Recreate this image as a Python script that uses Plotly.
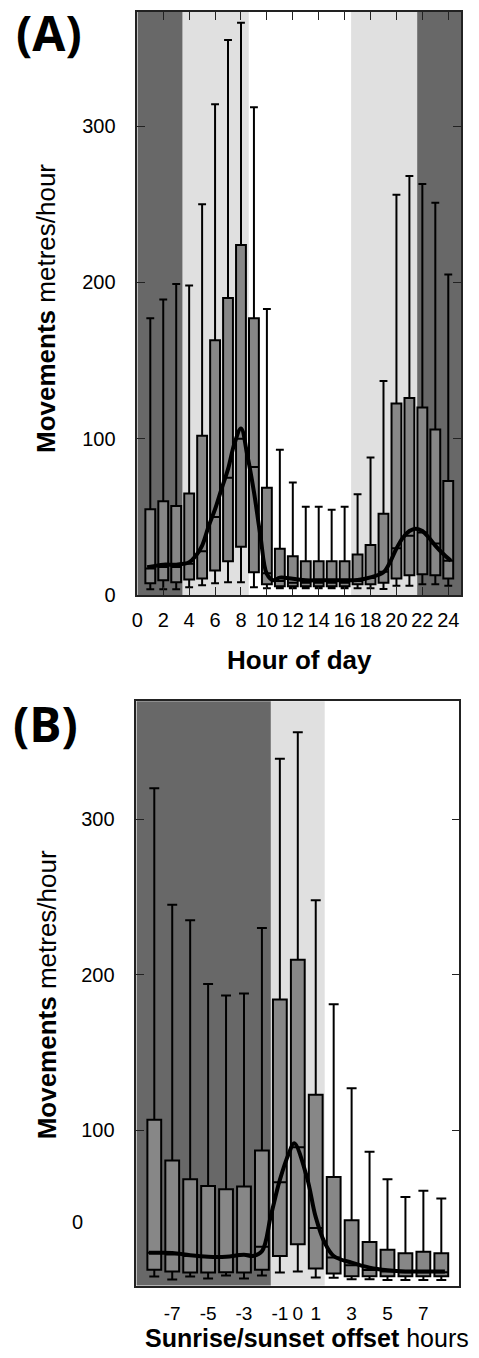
import plotly.graph_objects as go

# ---------------- data ----------------
hours_A = list(range(1, 25))
upper_A = [177, 189, 199, 198, 250, 314, 355, 366, 312, 183, 93, 72, 56.5, 56.5, 54.6, 56.5, 64.6, 88, 137, 256, 268, 263, 251, 205]
q3_A = [55, 60, 57, 65, 102, 163, 190, 224, 177, 68.6, 29.6, 24.8, 21.6, 21.6, 21.6, 21.6, 26, 32, 52, 122.5, 126, 120, 106, 73]
median_A = [17, 18, 18, 20, 28, 50, 75, 100, 82, 14, 9, 8, 8, 8, 8, 8, 9, 11, 15, 30, 38, 40, 33, 22]
q1_A = [7.6, 9.5, 8.3, 10, 10.6, 15.7, 21.6, 31, 14.6, 7, 5.7, 5.7, 5.7, 5.7, 5.7, 5.7, 7, 7, 8, 10.6, 12.7, 13.3, 12.7, 10.6]
lower_A = [3.8, 3.8, 3.8, 5, 6.3, 7.6, 8.3, 8.3, 5, 4.4, 4.4, 4.4, 4.4, 4.4, 4.4, 4.4, 4.4, 4.4, 4, 6, 6, 7, 7, 6]

curve_A_x = [0.76, 2, 3, 4, 4.5, 5, 5.5, 6, 6.5, 7, 7.5, 8, 8.5, 9, 9.5, 10, 10.5, 11, 12, 13, 14, 15, 16, 17, 18, 19, 19.5, 20, 20.5, 21, 21.5, 22, 22.5, 23, 23.5, 24.2]
curve_A_y = [17.8, 19.5, 19.5, 21, 25, 31.7, 44, 55, 68, 80.6, 97, 106.5, 89, 66, 38, 13.5, 9.5, 11.2, 10.5, 9.5, 9.5, 9.5, 9.5, 9.7, 11.4, 14.6, 21, 29.8, 36.8, 41, 42.5, 41, 36.8, 31.7, 27.3, 22]

offsets_B = list(range(-8, 9))
upper_B = [320, 245, 235, 194, 186.6, 188, 230, 339, 356, 248, 181, 127, 86, 68.4, 56.9, 60.9, 56]
q3_B = [106.7, 80.5, 68.4, 64, 62, 63.7, 86.9, 184, 209.6, 122.7, 69.8, 42, 28, 23, 20.7, 21.7, 20.7]
median_B = [21, 20, 19, 19, 19, 20, 25, 66.5, 89, 37, 18, 13, 10, 9, 8.5, 8.5, 8.5]
q1_B = [10.2, 9, 8.3, 8.3, 8.5, 8.3, 10.2, 19, 26.6, 10.9, 7.7, 6, 6, 6, 6, 6, 6]
lower_B = [5.8, 3.8, 5.8, 4.5, 6.4, 4.5, 6.4, 8.3, 9, 5.1, 5, 4, 4, 3.5, 3.5, 3.5, 3.5]

curve_B_x = [-8.3, -7, -6, -5, -4, -3, -2.5, -2, -1.5, -1, -0.5, -0.2, 0.5, 1, 1.5, 2, 3, 4, 5, 6, 7, 8.2]
curve_B_y = [21, 21, 19.5, 18.5, 18.5, 19.8, 19, 22, 45, 68, 85, 91.5, 70, 44, 27.5, 19, 14.7, 11.5, 9.8, 9, 9, 9]

# light periods: (start, end, kind)
shade_A = [(0, 3.5, "night"), (3.5, 8.6, "twilight"), (16.5, 21.6, "twilight"), (21.6, 25, "night")]
shade_B = [(-9, -1.5, "night"), (-1.5, 1.5, "twilight")]

xticks_A = list(range(0, 25, 2))
xticks_B = [-7, -5, -3, -1, 0, 1, 3, 5, 7]
xticklabels_B = ["-7", "-5", "-3", "-1", "0", "1", "3", "5", "7"]
xticks_B_top = [-7, -5, -3, -1, 1, 3, 5, 7]

# ---------------- styling ----------------
W, H = 479, 1358
DARK = "#686868"
LIGHT = "#e0e0e0"
BOXFILL = "#878787"
FONT = "Liberation Sans, Arial, sans-serif"

def px_x(p):
    return p / W

def px_y(p):
    return 1 - p / H

fig = go.Figure()

fig.add_trace(go.Box(
    x=hours_A, q1=q1_A, median=median_A, q3=q3_A,
    lowerfence=lower_A, upperfence=upper_A,
    width=0.76, whiskerwidth=0.8, boxpoints=False,
    fillcolor=BOXFILL, line=dict(color="black", width=2),
    xaxis="x", yaxis="y", showlegend=False))
fig.add_trace(go.Scatter(
    x=curve_A_x, y=curve_A_y, mode="lines", line=dict(color="black", width=4, shape="spline", smoothing=1),
    xaxis="x", yaxis="y", showlegend=False))

fig.add_trace(go.Box(
    x=offsets_B, q1=q1_B, median=median_B, q3=q3_B,
    lowerfence=lower_B, upperfence=upper_B,
    width=0.77, whiskerwidth=0.72, boxpoints=False,
    fillcolor=BOXFILL, line=dict(color="black", width=2),
    xaxis="x2", yaxis="y2", showlegend=False))
fig.add_trace(go.Scatter(
    x=curve_B_x, y=curve_B_y, mode="lines", line=dict(color="black", width=4, shape="spline", smoothing=1),
    xaxis="x2", yaxis="y2", showlegend=False))

shapes = []
for (a, b, kind) in shade_A:
    shapes.append(dict(type="rect", xref="x", yref="y domain", x0=a, x1=b, y0=0, y1=1,
                       fillcolor=DARK if kind == "night" else LIGHT, line=dict(width=0), layer="below"))
for (a, b, kind) in shade_B:
    shapes.append(dict(type="rect", xref="x2", yref="y2 domain", x0=a, x1=b, y0=0, y1=1,
                       fillcolor=DARK if kind == "night" else LIGHT, line=dict(width=0), layer="below"))

axis_common = dict(showline=True, linecolor="#222", linewidth=1.5, showgrid=False, zeroline=False,
                   ticklen=8, tickwidth=1.2, tickcolor="#222")
tickfont = dict(family=FONT, size=20, color="black")

fig.update_layout(
    width=W, height=H, margin=dict(l=0, r=0, t=0, b=0),
    paper_bgcolor="white", plot_bgcolor="white",
    shapes=shapes,
    xaxis=dict(domain=[px_x(133), px_x(461)], range=[0, 25], anchor="y",
               tickmode="array", tickvals=xticks_A, ticks="inside", mirror="ticks", tickangle=0,
               ticklabelstandoff=6, tickfont=tickfont, **axis_common),
    yaxis=dict(domain=[px_y(600), px_y(12)], range=[0, 373], anchor="x",
               tickmode="array", tickvals=[0, 100, 200, 300], ticks="inside", mirror="ticks",
               ticklabelstandoff=16, tickfont=tickfont, **axis_common),
    xaxis2=dict(domain=[px_x(132), px_x(459)], range=[-9, 9], anchor="y2",
                tickmode="array", tickvals=xticks_B, ticktext=xticklabels_B, ticks="", mirror=True,
                tickangle=0, ticklabelstandoff=10, tickfont=dict(family=FONT, size=19, color="black"),
                **axis_common),
    yaxis2=dict(domain=[px_y(1296), px_y(707)], range=[0, 376], anchor="x2",
                tickmode="array", tickvals=[100, 200, 300], ticks="inside", mirror="ticks",
                ticklabelstandoff=16, tickfont=tickfont, **axis_common),
    xaxis3=dict(overlaying="x2", matches="x2", side="top", anchor="y2", range=[-9, 9],
                tickmode="array", tickvals=xticks_B_top, ticks="inside", ticklen=8, tickwidth=1.2,
                tickcolor="#222", showticklabels=False, showline=False, showgrid=False, zeroline=False),
)

ann = []
ann.append(dict(text="<b>(A)</b>", x=px_x(8), y=px_y(33), xref="paper", yref="paper",
                xanchor="left", yanchor="middle", showarrow=False,
                font=dict(family="Open Sans, sans-serif", size=48, color="black")))
ann.append(dict(text="<b>(B)</b>", x=px_x(5), y=px_y(729), xref="paper", yref="paper",
                xanchor="left", yanchor="middle", showarrow=False,
                font=dict(family="Open Sans, sans-serif", size=48, color="black")))
for yc in (311, 1003):
    ann.append(dict(text="<b>Movements</b> metres/hour", x=px_x(41), y=px_y(yc), xref="paper", yref="paper",
                    xanchor="center", yanchor="middle", textangle=-90, showarrow=False,
                    font=dict(family=FONT, size=26, color="black")))
ann.append(dict(text="<b>Hour of day</b>", x=px_x(297), y=px_y(665), xref="paper", yref="paper",
                xanchor="center", yanchor="middle", showarrow=False,
                font=dict(family=FONT, size=26, color="black")))
ann.append(dict(text="<b>Sunrise/sunset offset</b> hours", x=px_x(305), y=px_y(1349), xref="paper", yref="paper",
                xanchor="center", yanchor="middle", showarrow=False,
                font=dict(family=FONT, size=25, color="black")))
ann.append(dict(text="0", x=px_x(72), y=px_y(1232), xref="paper", yref="paper",
                xanchor="center", yanchor="middle", showarrow=False,
                font=dict(family=FONT, size=20, color="black")))
fig.update_layout(annotations=ann)

fig.write_html("out.html", config={"displayModeBar": False},
               post_script="document.body.style.margin='0';document.body.style.padding='0';document.body.style.overflow='hidden';")
